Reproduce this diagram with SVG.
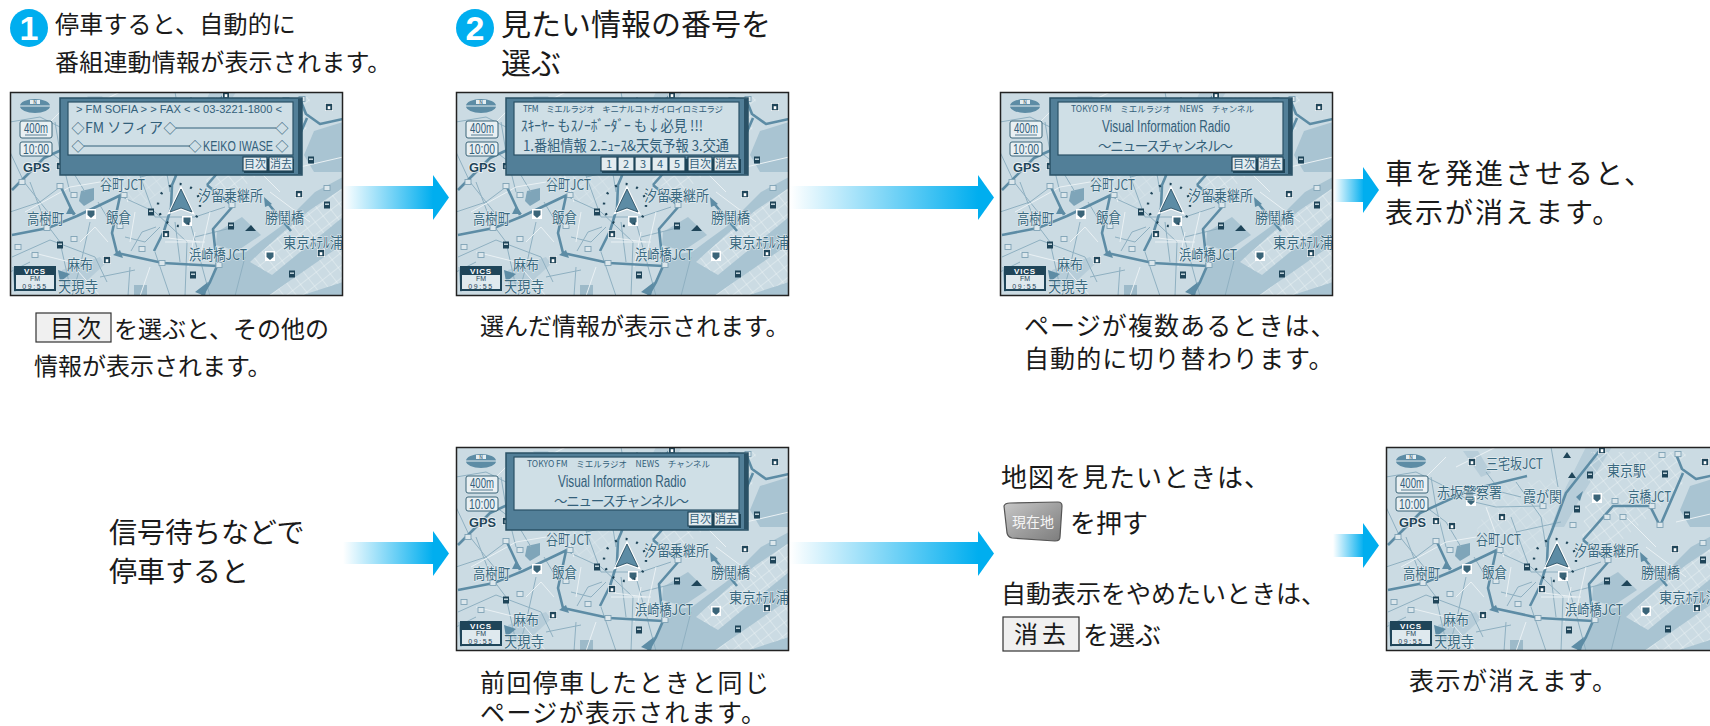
<svg xmlns="http://www.w3.org/2000/svg" xmlns:xlink="http://www.w3.org/1999/xlink" width="1710" height="726" viewBox="0 0 1710 726">
<style>
text{font-family:"Noto Sans CJK JP","Noto Sans",sans-serif;fill:#1a1a1a}
.c24{font-size:24px}.c25{font-size:25px;letter-spacing:1.1px}.c28{font-size:28px}.c30{font-size:30px}
.ml{font-size:15px;fill:#3a6980;stroke:#e4edf1;stroke-width:1.2px;paint-order:stroke}
.box{fill:#f0f0f0;stroke:#333;stroke-width:1.2}
.pn{fill:#527f98;stroke:#2a5166;stroke-width:1.5}
.in{fill:#cfdfe6;stroke:#2a5166;stroke-width:1.2}
.btn{fill:#e3ecf0;stroke:#1f4559;stroke-width:1.2}
.bs{fill:#1f4559}
.bt{font-size:11px;fill:#33607a;text-anchor:middle}
.hw{fill:none;stroke:#5d8ca5;stroke-width:2.6;stroke-linejoin:round}
.rd{fill:none;stroke:#8fb0c1;stroke-width:1}
.lt{fill:none;stroke:#eaf1f4;stroke-width:1}
.wa{fill:#a9c4d2}
.wb{fill:#b7cdd9}
.dm{font-size:13px;fill:#33607a;text-anchor:middle}
.ln{stroke:#33607a;stroke-width:1}
.ss{fill:#33607a;font-size:11px}
.tx{font-size:14.5px;fill:#33607a}
.la{font-family:"Liberation Sans",Arial,sans-serif}
</style>
<defs>
<linearGradient id="ar"><stop offset="0" stop-color="#00aeef" stop-opacity="0"/><stop offset="1" stop-color="#00aeef"/></linearGradient>
<linearGradient id="kb" x1="0" y1="0" x2="1" y2="1"><stop offset="0" stop-color="#c9c9c9"/><stop offset=".55" stop-color="#9c9c9c"/><stop offset="1" stop-color="#7c7c7c"/></linearGradient>
<pattern id="gd" width="10" height="10" patternUnits="userSpaceOnUse" patternTransform="rotate(-38)"><path d="M0 0H10M0 0V10" fill="none" stroke="#eaf1f4" stroke-width="1"/></pattern>
<g id="h"><rect x="-4" y="-4" width="8" height="8" fill="#f4f8fa"/><rect x="-3.200" y="-3.200" width="6.400" height="6.400" fill="#1f4559"/><rect x="-1.300" y="-.8" width="2.600" height="3" fill="#fff"/></g>
<g id="d"><rect x="-3" y="-3.500" width="6" height="7" fill="#1f4559"/><rect x="-2" y="-1.500" width="4" height="1.400" fill="#cfdfe6"/></g>
<g id="p"><rect x="-5" y="-5" width="10" height="10" fill="#fff"/><path d="M-3.500-3.500H3.500V1L0 4-3.500 1Z" fill="#3a6478"/></g>
<g id="s"><rect x="-3" y="-2.500" width="6" height="5" fill="#dce7ec" stroke="#7fa3b6" stroke-width=".9"/></g>
<symbol id="map" viewBox="0 0 333 204" width="333" height="204">
<rect width="333" height="204" fill="#cbdbe3"/>
<path class="wa" d="M192 204L205 178 222 162 236 160 252 148 270 135 305 100 333 85V204Z"/>
<path class="wa" d="M207 140L232 125 251 143 227 159 206 153Z"/>
<path class="wa" d="M294 63L304 39 333 30V80H304Z"/>
<path class="wb" d="M200 0H226L195 50 178 80H165L180 40Z"/>
<path class="wb" d="M77 4L92 4 105 26 95 30Z"/>
<path class="wb" d="M52 178L90 165 95 172 70 195 52 195Z"/>
<path d="M205 5L300 5 296 40 262 70 228 100 196 92Z" fill="url(#gd)"/>
<path d="M110 40L175 30 165 90 130 115 90 85Z" fill="url(#gd)" opacity=".55"/>
<path d="M258 204L333 152V190L290 204Z" fill="#cbdbe3"/>
<path d="M258 204L333 152V190L290 204Z" fill="url(#gd)"/>
<path d="M240 170L270 143 300 118 333 96V125L262 183Z" fill="#cbdbe3"/>
<path d="M240 170L270 143 300 118 333 96V125L262 183Z" fill="url(#gd)"/>
<path d="M71 99L84 96 84 108 74 114 69 109Z" fill="#7fa5b9"/>
<path d="M124 193H137V204H124Z" fill="#9dbac9"/>
<path class="rd" d="M0 30L30 25 60 40 84 54 110 60 157 59M20 90L35 130 50 150 60 195M2 165L40 148 85 165 97 190M110 104L145 120 177 150 175 204M125 70L145 125 185 125 215 115M121 159L132 140 146 135M0 60L14 90 38 120M130 35L155 70 160 100M145 160L160 204M60 100L50 60 45 30M180 130L200 204M165 0L172 40M80 130L70 175 62 204M0 120L30 110 50 95M0 180L20 170M40 60L60 75 75 100M88 110L100 130M115 145L135 150 150 135M120 175L118 204M165 130L170 170M185 145L225 135M5 200L3 175M130 85L175 75M100 25L115 45 135 50M235 165L225 204M90 185L125 178"/>
<path class="lt" d="M15 120L60 95 90 90M20 160L60 170 90 204M118 110L100 60M150 145L190 150M140 175L130 204M155 150H195M185 140L178 175M70 20L110 0M240 70L270 100M260 100L300 130M290 75L333 65M70 150L85 135 98 150M30 40L60 10M125 120L120 150M200 120L190 165"/>
<path class="hw" d="M2 143L38 136 67 124 111 103M110 104L102 141 107 161 153 171 207 174 203 137 223 114 197 93M207 174L200 190 192 204"/>
<path class="hw" d="M2 98L34 66 84 43 141 29"/>
<path class="hw" d="M144 159L154 139 161 116 162 93 165 86 180 46 214 3"/>
<path class="hw" d="M50 93L64 123M256 109L281 139M197 93L227 59H264L274 79 297 26M290 7L296 22 310 32 333 27"/>
<path d="M103 163L110 158 113 166Z M60 114L66 122 56 122Z M48 178L60 182 50 190Z M190 50L197 44 194 54Z M254 105L262 112 255 115Z M185 200L198 190 195 204Z" fill="#5d8ca5"/>
<g>
<use xlink:href="#h" x="86" y="15"/><use xlink:href="#h" x="50" y="74"/><use xlink:href="#h" x="66" y="79"/><use xlink:href="#h" x="116" y="70"/><use xlink:href="#h" x="156" y="142"/><use xlink:href="#h" x="97" y="168"/><use xlink:href="#h" x="289" y="102"/><use xlink:href="#h" x="311" y="161"/><use xlink:href="#h" x="216" y="3"/><use xlink:href="#h" x="319" y="15"/>
<use xlink:href="#d" x="279" y="27"/><use xlink:href="#d" x="301" y="68"/><use xlink:href="#d" x="317" y="113"/><use xlink:href="#d" x="50" y="153"/><use xlink:href="#d" x="183" y="183"/><use xlink:href="#d" x="141" y="120"/><use xlink:href="#d" x="282" y="182"/><use xlink:href="#d" x="221" y="134"/><use xlink:href="#d" x="204" y="28"/><use xlink:href="#d" x="191" y="62"/>
<use xlink:href="#p" x="211" y="51"/><use xlink:href="#p" x="85" y="54"/><use xlink:href="#p" x="81" y="122"/><use xlink:href="#p" x="177" y="129"/><use xlink:href="#p" x="260" y="164"/>
<use xlink:href="#s" x="12" y="90"/><use xlink:href="#s" x="50" y="94"/><use xlink:href="#s" x="64" y="103"/><use xlink:href="#s" x="157" y="59"/><use xlink:href="#s" x="229" y="54"/><use xlink:href="#s" x="221" y="70"/><use xlink:href="#s" x="237" y="70"/><use xlink:href="#s" x="187" y="78"/><use xlink:href="#s" x="114" y="103"/><use xlink:href="#s" x="222" y="113"/><use xlink:href="#s" x="110" y="134"/><use xlink:href="#s" x="37" y="136"/><use xlink:href="#s" x="64" y="147"/><use xlink:href="#s" x="8" y="155"/><use xlink:href="#s" x="25" y="163"/><use xlink:href="#s" x="132" y="157"/><use xlink:href="#s" x="152" y="171"/><use xlink:href="#s" x="209" y="173"/><use xlink:href="#s" x="274" y="78"/><use xlink:href="#s" x="266" y="59"/><use xlink:href="#s" x="276" y="8"/><use xlink:href="#s" x="292" y="7"/><use xlink:href="#s" x="317" y="96"/>
<path d="M181 5L185 11H177Z M186 25L190 31H182Z M241 133L246 139H235Z" fill="#1f4559"/>
</g>
<text class="ml" x="100" y="22" textLength="57" lengthAdjust="spacingAndGlyphs">三宅坂JCT</text>
<text class="ml" x="221" y="29" textLength="39" lengthAdjust="spacingAndGlyphs">東京駅</text>
<text class="ml" x="51" y="51" textLength="65" lengthAdjust="spacingAndGlyphs">赤坂警察署</text>
<text class="ml" x="137" y="55" textLength="39" lengthAdjust="spacingAndGlyphs">霞が関</text>
<text class="ml" x="242" y="55" textLength="43" lengthAdjust="spacingAndGlyphs">京橋JCT</text>
<text class="ml" x="90" y="98" textLength="45" lengthAdjust="spacingAndGlyphs">谷町JCT</text>
<text class="ml" x="188" y="109" textLength="65" lengthAdjust="spacingAndGlyphs">汐留乗継所</text>
<text class="ml" x="17" y="132" textLength="37" lengthAdjust="spacingAndGlyphs">高樹町</text>
<text class="ml" x="96" y="131" textLength="25" lengthAdjust="spacingAndGlyphs">飯倉</text>
<text class="ml" x="255" y="131" textLength="39" lengthAdjust="spacingAndGlyphs">勝鬨橋</text>
<text class="ml" x="273" y="156" textLength="60" lengthAdjust="spacingAndGlyphs">東京ﾎﾃﾙ浦</text>
<text class="ml" x="179" y="168" textLength="58" lengthAdjust="spacingAndGlyphs">浜崎橋JCT</text>
<text class="ml" x="57" y="178" textLength="26" lengthAdjust="spacingAndGlyphs">麻布</text>
<text class="ml" x="48" y="200" textLength="40" lengthAdjust="spacingAndGlyphs">天現寺</text>
<ellipse cx="25" cy="14" rx="15" ry="7" fill="#5d8ca5"/><path d="M10 14H40" stroke="#e4edf1"/><rect x="20" y="8" width="10" height="4" fill="#e4edf1"/><text x="25" y="12" style="fill:#1f4559;font-size:5px" text-anchor="middle">N</text>
<rect x="10" y="29" width="32" height="17" rx="2" fill="#e9f0f3" stroke="#3a6478"/><text class="la" x="14" y="41" style="fill:#33607a;font-size:15px" textLength="24" lengthAdjust="spacingAndGlyphs">400m</text><path d="M15 43H37" stroke="#33607a" stroke-width=".8"/>
<rect x="10" y="50" width="32" height="14" rx="2" fill="#e9f0f3" stroke="#3a6478"/><text class="la" x="13" y="62" style="fill:#33607a;font-size:15px" textLength="26" lengthAdjust="spacingAndGlyphs">10:00</text>
<text class="la" x="13" y="80" style="fill:#1f4559;font-size:13px;font-weight:bold;stroke:#f0f5f7;stroke-width:1.5px;paint-order:stroke" textLength="27" lengthAdjust="spacingAndGlyphs">GPS</text>
<rect x="4" y="174" width="42" height="25" fill="#1f4559"/><rect x="6" y="183" width="38" height="14" fill="#dfe9ee"/>
<text class="la" x="25" y="181.500" text-anchor="middle" style="fill:#fff;font-size:8px;font-weight:bold;letter-spacing:.8px">VICS</text>
<text class="la" x="25" y="189" text-anchor="middle" style="fill:#1f4559;font-size:7px">FM</text>
<text class="la" x="25" y="196.500" text-anchor="middle" style="fill:#1f4559;font-size:7px;letter-spacing:1.6px">09:55</text>
<circle cx="169" cy="113" r="21" fill="none" stroke="#1f4559" stroke-width="2.400" stroke-dasharray="2 9"/>
<path d="M171 97L160 120 171 116 182 120Z" fill="#7da5ba" stroke="#fff" stroke-width="3"/>
<path d="M171 97L160 120 171 116 182 120Z" fill="#5d8ca5" stroke="#1f4559" stroke-width=".8"/>
</symbol>
<g id="bb"><rect class="pn" x="50" y="6" width="242" height="77"/><rect x="288" y="7" width="4" height="75" fill="#2a5166"/></g>
</defs>

<g id="connectors">
<g fill="url(#ar)">
<rect x="343" y="186" width="90" height="23"/><rect x="790" y="186" width="188" height="23"/><rect x="1334" y="179" width="30" height="23"/>
<rect x="343" y="542" width="90" height="22"/><rect x="790" y="542" width="188" height="22"/><rect x="1333" y="534" width="31" height="23"/>
</g>
<g fill="#00aeef">
<path d="M433 175L449 197.500 433 220Z"/><path d="M978 175L994 197.500 978 220Z"/><path d="M1363 167L1379 190 1363 213Z"/>
<path d="M433 531L449 553.500 433 576Z"/><path d="M978 531L994 553.500 978 576Z"/><path d="M1363 523L1379 545.500 1363 568Z"/>
</g>
</g>

<g id="step1">
<circle cx="29" cy="28" r="19" fill="#00aeef"/><text x="29" y="40" text-anchor="middle" style="fill:#fff;font-size:34px;font-weight:bold;font-family:'Liberation Sans',sans-serif">1</text>
<text class="c24" x="55" y="33" style="letter-spacing:.2px">停車すると、自動的に</text>
<text class="c24" x="55" y="71" style="letter-spacing:.2px">番組連動情報が表示されます。</text>
</g>
<g id="screen1" transform="translate(10,92)">
<use xlink:href="#map"/><rect x=".5" y=".5" width="332" height="203" fill="none" stroke="#222" stroke-width="1.500"/>
<use xlink:href="#bb"/><rect class="in" x="58" y="10" width="225" height="53"/>
<text class="ss la" x="66" y="21" textLength="206" lengthAdjust="spacingAndGlyphs">&gt; FM SOFIA &gt; &gt; FAX &lt; &lt; 03-3221-1800 &lt;</text>
<text class="dm" x="68" y="41">◇</text><text class="tx" x="75" y="41" textLength="78" lengthAdjust="spacingAndGlyphs">FM ソフィア</text><text class="dm" x="160" y="41">◇</text><line class="ln" x1="166" y1="36" x2="266" y2="36"/><text class="dm" x="272" y="41">◇</text>
<text class="dm" x="68" y="59">◇</text><line class="ln" x1="74" y1="54" x2="180" y2="54"/><text class="dm" x="185" y="59">◇</text><text class="tx la" x="193" y="59" textLength="70" lengthAdjust="spacingAndGlyphs">KEIKO IWASE</text><text class="dm" x="272" y="59">◇</text>
<rect class="bs" x="234" y="67" width="50" height="14"/>
<rect class="btn" x="233" y="65" width="24" height="14"/><text class="bt" x="245" y="76">目次</text><rect class="btn" x="259" y="65" width="24" height="14"/><text class="bt" x="271" y="76">消去</text>
</g>
<g id="note1">
<rect class="box" x="36" y="313" width="75" height="29"/><text class="c24" x="50" y="337" style="letter-spacing:3px">目次</text>
<text class="c24" x="114" y="338">を選ぶと、その他の</text>
<text class="c24" x="34" y="375">情報が表示されます。</text>
</g>

<g id="step2">
<circle cx="475" cy="28" r="19" fill="#00aeef"/><text x="475" y="40" text-anchor="middle" style="fill:#fff;font-size:34px;font-weight:bold;font-family:'Liberation Sans',sans-serif">2</text>
<text class="c30" x="501" y="35">見たい情報の番号を</text>
<text class="c30" x="501" y="74">選ぶ</text>
</g>
<g id="screen2" transform="translate(456,92)">
<use xlink:href="#map"/><rect x=".5" y=".5" width="332" height="203" fill="none" stroke="#222" stroke-width="1.500"/>
<use xlink:href="#bb"/><rect class="in" x="58" y="10" width="225" height="53"/>
<text class="ss" x="67" y="20" textLength="200" lengthAdjust="spacing" style="font-size:8.500px">TFM　ミエルラジオ　キニナルコトガイロイロミエラジ</text>
<text class="tx" x="65" y="39" textLength="182" lengthAdjust="spacingAndGlyphs">ｽｷｰﾔｰ もｽﾉｰﾎﾞｰﾀﾞｰ も↓必見 !!!</text>
<text class="tx" x="67" y="59" textLength="206" lengthAdjust="spacingAndGlyphs">1.番組情報 2.ﾆｭｰｽ&amp;天気予報 3.交通</text>
<rect class="bs" x="146" y="67" width="139" height="14"/>
<rect class="btn" x="145" y="65" width="16" height="14"/><text class="bt" x="153" y="76">1</text>
<rect class="btn" x="162" y="65" width="16" height="14"/><text class="bt" x="170" y="76">2</text>
<rect class="btn" x="179" y="65" width="16" height="14"/><text class="bt" x="187" y="76">3</text>
<rect class="btn" x="196" y="65" width="16" height="14"/><text class="bt" x="204" y="76">4</text>
<rect class="btn" x="213" y="65" width="16" height="14"/><text class="bt" x="221" y="76">5</text>
<rect class="btn" x="232" y="65" width="24" height="14"/><text class="bt" x="244" y="76">目次</text>
<rect class="btn" x="258" y="65" width="25" height="14"/><text class="bt" x="270" y="76">消去</text>
</g>
<g id="note2"><text class="c24" x="480" y="335">選んだ情報が表示されます。</text></g>

<g id="screen3" transform="translate(1000,92)">
<use xlink:href="#map"/><rect x=".5" y=".5" width="332" height="203" fill="none" stroke="#222" stroke-width="1.500"/>
<use xlink:href="#bb"/><rect class="in" x="58" y="10" width="225" height="53"/>
<text class="ss" x="71" y="20" textLength="183" lengthAdjust="spacing" style="font-size:8.500px">TOKYO FM　ミエルラジオ　NEWS　チャンネル</text>
<text class="la" x="102" y="40" style="font-size:16px;fill:#33607a" textLength="128" lengthAdjust="spacingAndGlyphs">Visual Information Radio</text>
<text x="98" y="59" style="font-size:13.500px;fill:#33607a" textLength="135" lengthAdjust="spacing">〜ニュースチャンネル〜</text>
<rect class="bs" x="233" y="67" width="52" height="14"/>
<rect class="btn" x="232" y="65" width="24" height="14"/><text class="bt" x="244" y="76">目次</text>
<rect class="btn" x="258" y="65" width="25" height="14"/><text class="bt" x="270" y="76">消去</text>
</g>
<g id="note3">
<text class="c25" x="1024" y="335">ページが複数あるときは、</text>
<text class="c25" x="1024" y="368">自動的に切り替わります。</text>
</g>
<g id="note4">
<text class="c28" x="1385" y="184" style="letter-spacing:2px">車を発進させると、</text>
<text class="c28" x="1385" y="223" style="letter-spacing:2px">表示が消えます。</text>
</g>

<g id="note5">
<text class="c28" x="109" y="543">信号待ちなどで</text>
<text class="c28" x="109" y="582">停車すると</text>
</g>
<g id="screen4" transform="translate(456,447)">
<use xlink:href="#map"/><rect x=".5" y=".5" width="332" height="203" fill="none" stroke="#222" stroke-width="1.500"/>
<use xlink:href="#bb"/><rect class="in" x="58" y="10" width="225" height="53"/>
<text class="ss" x="71" y="20" textLength="183" lengthAdjust="spacing" style="font-size:8.500px">TOKYO FM　ミエルラジオ　NEWS　チャンネル</text>
<text class="la" x="102" y="40" style="font-size:16px;fill:#33607a" textLength="128" lengthAdjust="spacingAndGlyphs">Visual Information Radio</text>
<text x="98" y="59" style="font-size:13.500px;fill:#33607a" textLength="135" lengthAdjust="spacing">〜ニュースチャンネル〜</text>
<rect class="bs" x="233" y="67" width="52" height="14"/>
<rect class="btn" x="232" y="65" width="24" height="14"/><text class="bt" x="244" y="76">目次</text>
<rect class="btn" x="258" y="65" width="25" height="14"/><text class="bt" x="270" y="76">消去</text>
</g>
<g id="note6">
<text class="c25" x="480" y="692" style="letter-spacing:1.4px">前回停車したときと同じ</text>
<text class="c25" x="480" y="722" style="letter-spacing:1.4px">ページが表示されます。</text>
</g>
<g id="note7">
<text x="1001" y="487" style="font-size:26px;letter-spacing:1px">地図を見たいときは、</text>
<path d="M1004 506Q1005 503 1010 503L1058 502Q1062 502 1062 506L1060 537Q1060 541 1055 541L1012 538Q1008 537 1007 533Z" fill="url(#kb)" stroke="#555" stroke-width="1.200"/>
<text x="1033" y="527" text-anchor="middle" style="fill:#f5f5f5;font-size:14px">現在地</text>
<text x="1070" y="533" style="font-size:26px">を押す</text>
<text x="1001" y="603" style="font-size:25px">自動表示をやめたいときは、</text>
<rect class="box" x="1003" y="617" width="76" height="34"/><text class="c24" x="1014" y="643" style="letter-spacing:4px">消去</text>
<text x="1083" y="645" style="font-size:26px">を選ぶ</text>
</g>
<g id="screen5" transform="translate(1386,447)">
<use xlink:href="#map"/><rect x=".5" y=".5" width="332" height="203" fill="none" stroke="#222" stroke-width="1.500"/>
</g>
<g id="note8"><text class="c25" x="1409" y="690" style="letter-spacing:1.5px">表示が消えます。</text></g>
</svg>
